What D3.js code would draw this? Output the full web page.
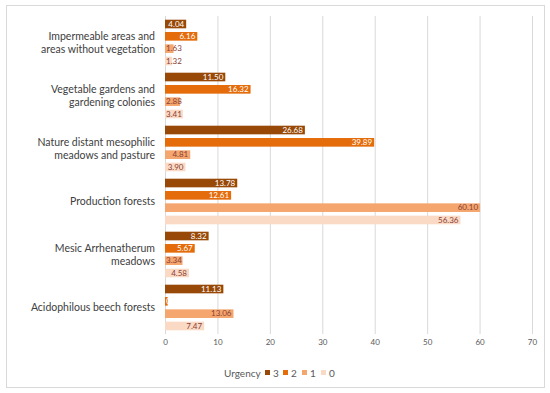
<!DOCTYPE html>
<html><head><meta charset="utf-8">
<script src="https://cdn.jsdelivr.net/npm/d3@7"></script>
<style>body{margin:0;background:#fff}</style>
</head><body>
<svg id="c" width="550" height="393"></svg>
<script>
const categories = [
  "Impermeable areas and|areas without vegetation",
  "Vegetable gardens and|gardening colonies",
  "Nature distant mesophilic|meadows and pasture",
  "Production forests",
  "Mesic Arrhenatherum|meadows",
  "Acidophilous beech forests"
];
const seriesNames = ["3", "2", "1", "0"];
const urgency3 = [4.04, 11.50, 26.68, 13.78, 8.32, 11.13];
const urgency2 = [6.16, 16.32, 39.89, 12.61, 5.67, 0.51];
const urgency1 = [1.63, 2.88, 4.81, 60.10, 3.34, 13.06];
const urgency0 = [1.32, 3.41, 3.90, 56.36, 4.58, 7.47];
const xTicks = [0, 10, 20, 30, 40, 50, 60, 70];
const colors = ["#984807", "#E46C0A", "#F5A66E", "#FBDAC5"];
const labelColors = ["#ffffff", "#ffffff", "#8a3e35", "#8a3e35"];

const series = [urgency3, urgency2, urgency1, urgency0];
const svg = d3.select("#c");
const font = "Lato, 'Open Sans', sans-serif";

svg.append("rect").attr("x", 6.5).attr("y", 5.5).attr("width", 538).attr("height", 382)
  .attr("fill", "#fff").attr("stroke", "#d9d9d9").attr("stroke-width", 1);

const x = d3.scaleLinear().domain([0, 70]).range([165, 532]);
const y0 = d3.scaleBand().domain(d3.range(categories.length)).range([16, 334]);
const y1 = d3.scaleBand().domain(d3.range(seriesNames.length)).range([0, y0.bandwidth()])
  .paddingInner(0.3).paddingOuter(0.3);

// grid
svg.append("g").selectAll("line").data(xTicks).join("line")
  .attr("x1", d => x(d) + 0.5).attr("x2", d => x(d) + 0.5)
  .attr("y1", 16).attr("y2", 334)
  .attr("stroke", "#d9d9d9").attr("stroke-width", 1);

// axis labels
const ax = d3.axisBottom(x).tickValues(xTicks).tickSize(0).tickPadding(0);
const axg = svg.append("g").attr("transform", "translate(0,339)").call(ax);
axg.select(".domain").remove();
axg.selectAll("text").attr("font-family", font).attr("font-size", "8px").attr("fill", "#595959");

// bars
const groups = svg.append("g").selectAll("g").data(categories).join("g")
  .attr("transform", (d, i) => `translate(0,${y0(i)})`);

const tmp = svg.append("text").attr("font-family", font).attr("font-size", "8px");
function tw(s) { tmp.text(s); return tmp.node().getComputedTextLength(); }

groups.each(function(cat, ci) {
  const g = d3.select(this);
  series.forEach((vals, si) => {
    const v = vals[ci];
    g.append("rect").attr("x", x(0)).attr("y", y1(si))
      .attr("width", x(v) - x(0)).attr("height", y1.bandwidth())
      .attr("fill", colors[si]);
    const s = v.toFixed(2);
    const w = tw(s);
    const tx = Math.max(x(v) - 2, x(0) + w + 1);
    g.append("text").attr("x", tx).attr("y", y1(si) + y1.bandwidth() / 2)
      .attr("dy", "0.35em").attr("text-anchor", "end")
      .attr("font-family", font).attr("font-size", "8px")
      .attr("fill", labelColors[si]).text(s);
  });
  const lines = cat.split("|");
  const cy = y0.bandwidth() / 2;
  const lh = 13.3;
  lines.forEach((ln, li) => {
    g.append("text").attr("x", 155).attr("y", cy + (li - (lines.length - 1) / 2) * lh)
      .attr("dy", "0.35em").attr("text-anchor", "end")
      .attr("font-family", font).attr("font-size", "10.5px").attr("fill", "#404040").text(ln);
  });
});
tmp.remove();

// legend
const lg = svg.append("g").attr("font-family", font).attr("font-size", "10px").attr("fill", "#595959");
lg.append("text").attr("x", 224).attr("y", 373).attr("dy", "0.35em").text("Urgency");
const lx = [265, 283, 302, 321];
seriesNames.forEach((n, i) => {
  lg.append("rect").attr("x", lx[i]).attr("y", 370).attr("width", 5).attr("height", 5).attr("fill", colors[i]);
  lg.append("text").attr("x", lx[i] + 8).attr("y", 373).attr("dy", "0.35em").text(n);
});
</script>
</body></html>
